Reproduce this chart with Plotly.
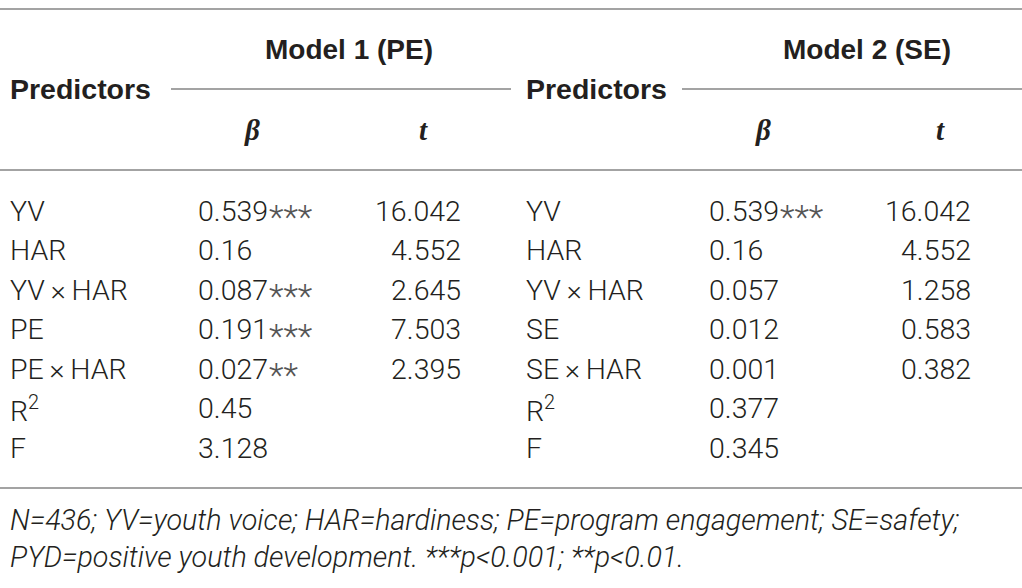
import plotly.graph_objects as go

# Table contents
models = ["Model 1 (PE)", "Model 2 (SE)"]
predictors_m1 = ["YV", "HAR", "YV\u2009×\u2009HAR", "PE", "PE\u2009×\u2009HAR", "R<sup>2</sup>", "F"]
beta_m1 = ["0.539", "0.16", "0.087", "0.191", "0.027", "0.45", "3.128"]
stars_m1 = ["***", "", "***", "***", "**", "", ""]
t_m1 = ["16.042", "4.552", "2.645", "7.503", "2.395", "", ""]
predictors_m2 = ["YV", "HAR", "YV\u2009×\u2009HAR", "SE", "SE\u2009×\u2009HAR", "R<sup>2</sup>", "F"]
beta_m2 = ["0.539", "0.16", "0.057", "0.012", "0.001", "0.377", "0.345"]
stars_m2 = ["***", "", "", "", "", "", ""]
t_m2 = ["16.042", "4.552", "1.258", "0.583", "0.382", "", ""]
notes = [
    "N=436; YV=youth voice; HAR=hardiness; PE=program engagement; SE=safety;",
    "PYD=positive youth development. ***p<0.001; **p<0.01.",
]

W, H = 1022, 588
TXT = "#231f20"
STAR = "#555555"
RULE = "#a3a3a3"
SANS = "Liberation Sans, Arial, Helvetica, sans-serif"
LIGHT = "Roboto, Liberation Sans, Arial, sans-serif"
SERIF = "Liberation Serif, Times New Roman, serif"

fig = go.Figure()
fig.add_trace(go.Scatter(x=[0, W], y=[0, H], mode="markers",
                         marker=dict(opacity=0), hoverinfo="skip", showlegend=False))

ann = []


def txt(x, y, s, xanchor="left", size=28.5, family=LIGHT, weight=300, color=TXT):
    ann.append(dict(x=x, y=y, text=s, xref="x", yref="y", showarrow=False,
                    xanchor=xanchor, yanchor="middle",
                    font=dict(family=family, size=size, color=color, weight=weight)))


# block layout: (label x, beta x, t right x, model centre, beta centre, t centre)
blocks = [
    (8, 196, 463, 349, 252, 423, predictors_m1, beta_m1, stars_m1, t_m1),
    (524, 707, 973, 867, 763, 940, predictors_m2, beta_m2, stars_m2, t_m2),
]
row0, step = 211, 39.5
star_dx = 71  # width of a "0.xxx" value; the stars follow it, set a bit lower

for i, (lx, bx, tx, mc, bc, tc, preds, betas, stars, ts) in enumerate(blocks):
    txt(mc, 49, models[i], xanchor="center", size=28, family=SANS, weight=700)
    txt(lx, 89, "Predictors", size=28.5, family=SANS, weight=700)
    txt(bc, 130, "<i>β</i>", xanchor="center", size=29, family=SERIF, weight=700)
    txt(tc, 130, "<i>t</i>", xanchor="center", size=29, family=SERIF, weight=700)
    for r in range(len(preds)):
        y = row0 + r * step
        txt(lx, y, preds[r])
        txt(bx, y, betas[r])
        if stars[r]:
            txt(bx + star_dx, y + 6, stars[r], size=34, color=STAR)
        if ts[r]:
            txt(tx, y, ts[r], xanchor="right")

for k, line in enumerate(notes):
    txt(8, 520 + k * 37, "<i>" + line + "</i>", size=28.7)

shapes = []
for (x0, x1, y) in [(0, W, 9), (171, 511, 89), (682, W, 89), (0, W, 170), (0, W, 488)]:
    shapes.append(dict(type="line", xref="x", yref="y", x0=x0, x1=x1, y0=y, y1=y,
                       line=dict(color=RULE, width=2)))

fig.update_layout(
    width=W, height=H,
    margin=dict(l=0, r=0, t=0, b=0),
    paper_bgcolor="white", plot_bgcolor="white",
    xaxis=dict(range=[0, W], visible=False, fixedrange=True),
    yaxis=dict(range=[H, 0], visible=False, fixedrange=True),
    annotations=ann, shapes=shapes,
)

fig.write_html("out.html", config=dict(displayModeBar=False),
               post_script="document.body.style.margin='0';document.body.style.overflow='hidden';")
